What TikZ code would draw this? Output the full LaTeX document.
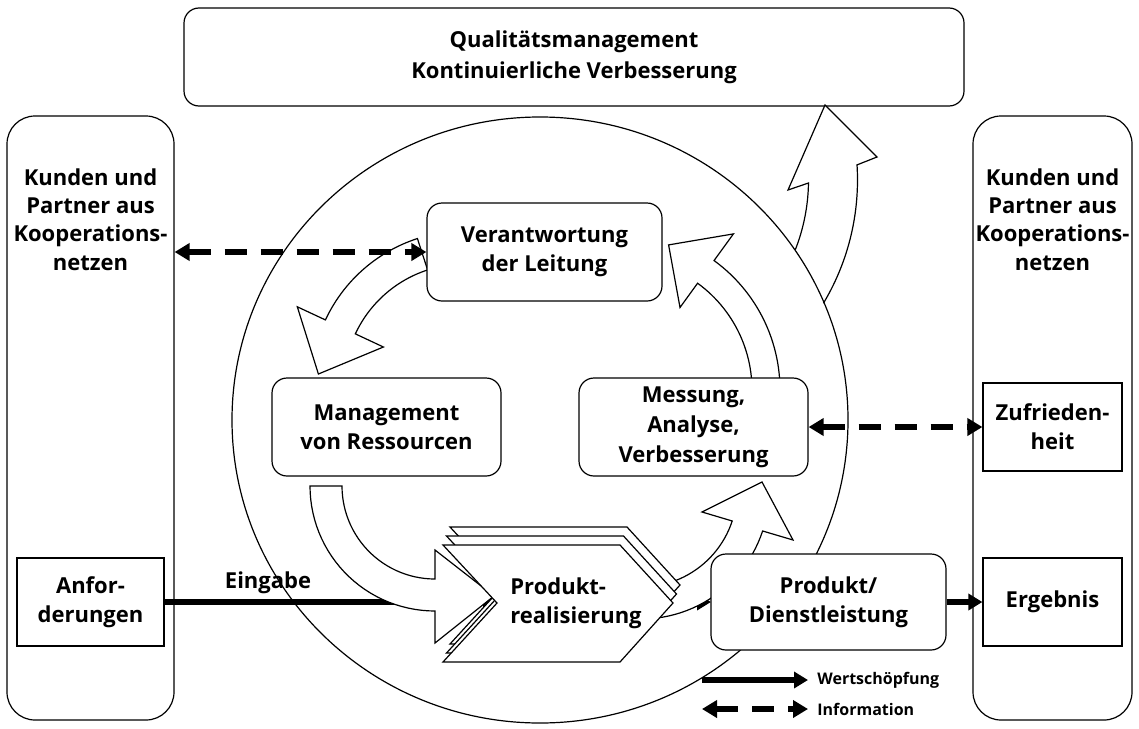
\documentclass[tikz,border=0pt]{standalone}
\usepackage{fontspec}
\setmainfont{Open Sans}
\usetikzlibrary{arrows.meta}
\begin{document}
\begin{tikzpicture}[x=0.5pt,y=-0.5pt,
  outline/.style={draw=black, line width=0.6pt},
  txt/.style={font=\bfseries\fontsize{11}{14.6}\selectfont, align=center, inner sep=0pt},
  proc/.style={outline, fill=white, rounded corners=7.5pt, txt},
  plain/.style={outline, fill=white, txt},
  tall/.style={outline, fill=white, rounded corners=14pt},
  band/.style={outline, fill=white, line join=miter},
  flow/.style={line width=2.6pt, -{Triangle[length=7pt,width=8pt]}},
  info/.style={line width=3.2pt, dash pattern=on 11pt off 7pt,
    {Triangle[length=7.5pt,width=8.5pt]}-{Triangle[length=7.5pt,width=8.5pt]}},
  legend/.style={font=\bfseries\fontsize{8}{10}\selectfont, inner sep=0pt, anchor=west},
]
\useasboundingbox (0,0) rectangle (1139,728);
\clip (0,0) rectangle (1139,728);

% side columns: customers and partners
\node[tall, minimum width=83.5pt, minimum height=302pt] (kl) at (90.5,418) {};
\node[tall, minimum width=79.5pt, minimum height=302pt] (kr) at (1052.5,418) {};
\node[txt, font=\bfseries\fontsize{11}{14.2}\selectfont] (kltxt) at (90.5,219.5) {Kunden und\\Partner aus\\Kooperations-\\netzen};
\node[txt, font=\bfseries\fontsize{11}{14.2}\selectfont] (krtxt) at (1052.5,219.5) {Kunden und\\Partner aus\\Kooperations-\\netzen};

% quality management banner
\node[proc, minimum width=390pt, minimum height=49pt, font=\bfseries\fontsize{11}{15.5}\selectfont] (qm) at (574,57) {Qualitätsmanagement\\Kontinuierliche Verbesserung};

% outward arrow towards continuous improvement
\path[band] plot[domain=21.4:0.9, samples=30, variable=\t] ({617.5+191*cos(\t)},{180+191*sin(\t)})
  -- (788,190) -- (825,105) -- (877,157) -- (857,164.9)
  -- plot[domain=-3.6:30.9, samples=30, variable=\t] ({617.5+240*cos(\t)},{180+240*sin(\t)});

% process circle
\draw[outline] (540,420) ellipse[x radius=154pt, y radius=151.5pt];

% value chain connectors (partly hidden behind the cycle arrows)
\coordinate (anfE) at (164,602);
\coordinate (notch) at (497,602);
\coordinate (prtip) at (673,602);
\coordinate (pdW) at (711,602);
\draw[flow] (anfE) -- (notch);
\node[txt] (eing) at (268,583) {Eingabe};

% cycle arrows
% Verantwortung -> Management
\path[band] plot[domain=252:205, samples=30, variable=\t] ({465+154*cos(\t)},{385+154*sin(\t)})
  -- (297.3,306.8) -- (318.4,374) -- (383.4,347)
  -- plot[domain=205:252, samples=30, variable=\t] ({465+121*cos(\t)},{385+121*sin(\t)}) -- cycle;
% Management -> Produktrealisierung
\path[band] (342,486) -- (310,486)
  -- plot[domain=180:90, samples=30, variable=\t] ({435+125*cos(\t)},{486+125*sin(\t)})
  -- (435,643) -- (494,596) -- (435,550)
  -- plot[domain=90:180, samples=30, variable=\t] ({435+93*cos(\t)},{486+93*sin(\t)}) -- cycle;
% Messung -> Verantwortung
\path[band] plot[domain=2:-54, samples=30, variable=\t] ({620+160*cos(\t)},{390+160*sin(\t)})
  -- (733.4,233.9) -- (668.6,244.9) -- (680,307.5)
  -- plot[domain=-54:2, samples=30, variable=\t] ({620+132*cos(\t)},{390+132*sin(\t)}) -- cycle;

\draw[flow] (prtip) -- (pdW);
% Produktrealisierung -> Messung
\path[band] plot[domain=100:18.2, samples=30, variable=\t] ({641+128*cos(\t)},{491+128*sin(\t)})
  -- (793,540) -- (762,482) -- (702,512)
  -- plot[domain=18.2:100, samples=30, variable=\t] ({641+96*cos(\t)},{491+96*sin(\t)}) -- cycle;

% stacked product realisation sheets
\foreach \s in {2,1,0}{
  \path[band, shift={(3.5*\s,-9*\s)}] (443,545) -- (620,545) -- (673,603) -- (620,662) -- (443,662) -- (497,603) -- cycle;
}
\node[txt, align=left, anchor=west] (pr) at (510,603) {Produkt-\\realisierung};

% process boxes
\node[proc, minimum width=117.5pt, minimum height=49pt] (ver) at (544.5,252) {Verantwortung\\der Leitung};
\node[proc, minimum width=114.5pt, minimum height=49pt] (man) at (386.5,427) {Management\\von Ressourcen};
\node[proc, minimum width=114.5pt, minimum height=49pt, font=\bfseries\fontsize{11}{15}\selectfont] (mes) at (693.5,427) {Messung,\\Analyse,\\Verbesserung};
\node[proc, minimum width=117.5pt, minimum height=48pt] (pd) at (828.5,602) {Produkt/\\Dienstleistung};

% boxes in the side columns
\node[plain, minimum width=73.5pt, minimum height=44pt] (anf) at (90.5,602) {Anfor-\\derungen};
\node[plain, minimum width=69.5pt, minimum height=44pt] (zuf) at (1052.5,427) {Zufrieden-\\heit};
\node[plain, minimum width=69.5pt, minimum height=44pt] (erg) at (1052.5,602) {Ergebnis};

% information and output connectors
\draw[info] (kl.east |- ver.west) -- (ver.west);
\draw[info] (mes.east) -- (zuf.west);
\draw[flow] (pd.east) -- (erg.west);

% legend
\coordinate (wa) at (702,680);
\coordinate (wb) at (808,680);
\coordinate (ia) at (702,709);
\coordinate (ib) at (808,709);
\draw[flow] (wa) -- (wb);
\draw[info] (ia) -- (ib);
\node[legend] (wt) at (817,680) {Wertschöpfung};
\node[legend] (it) at (817,709) {Information};
\end{tikzpicture}
\end{document}
